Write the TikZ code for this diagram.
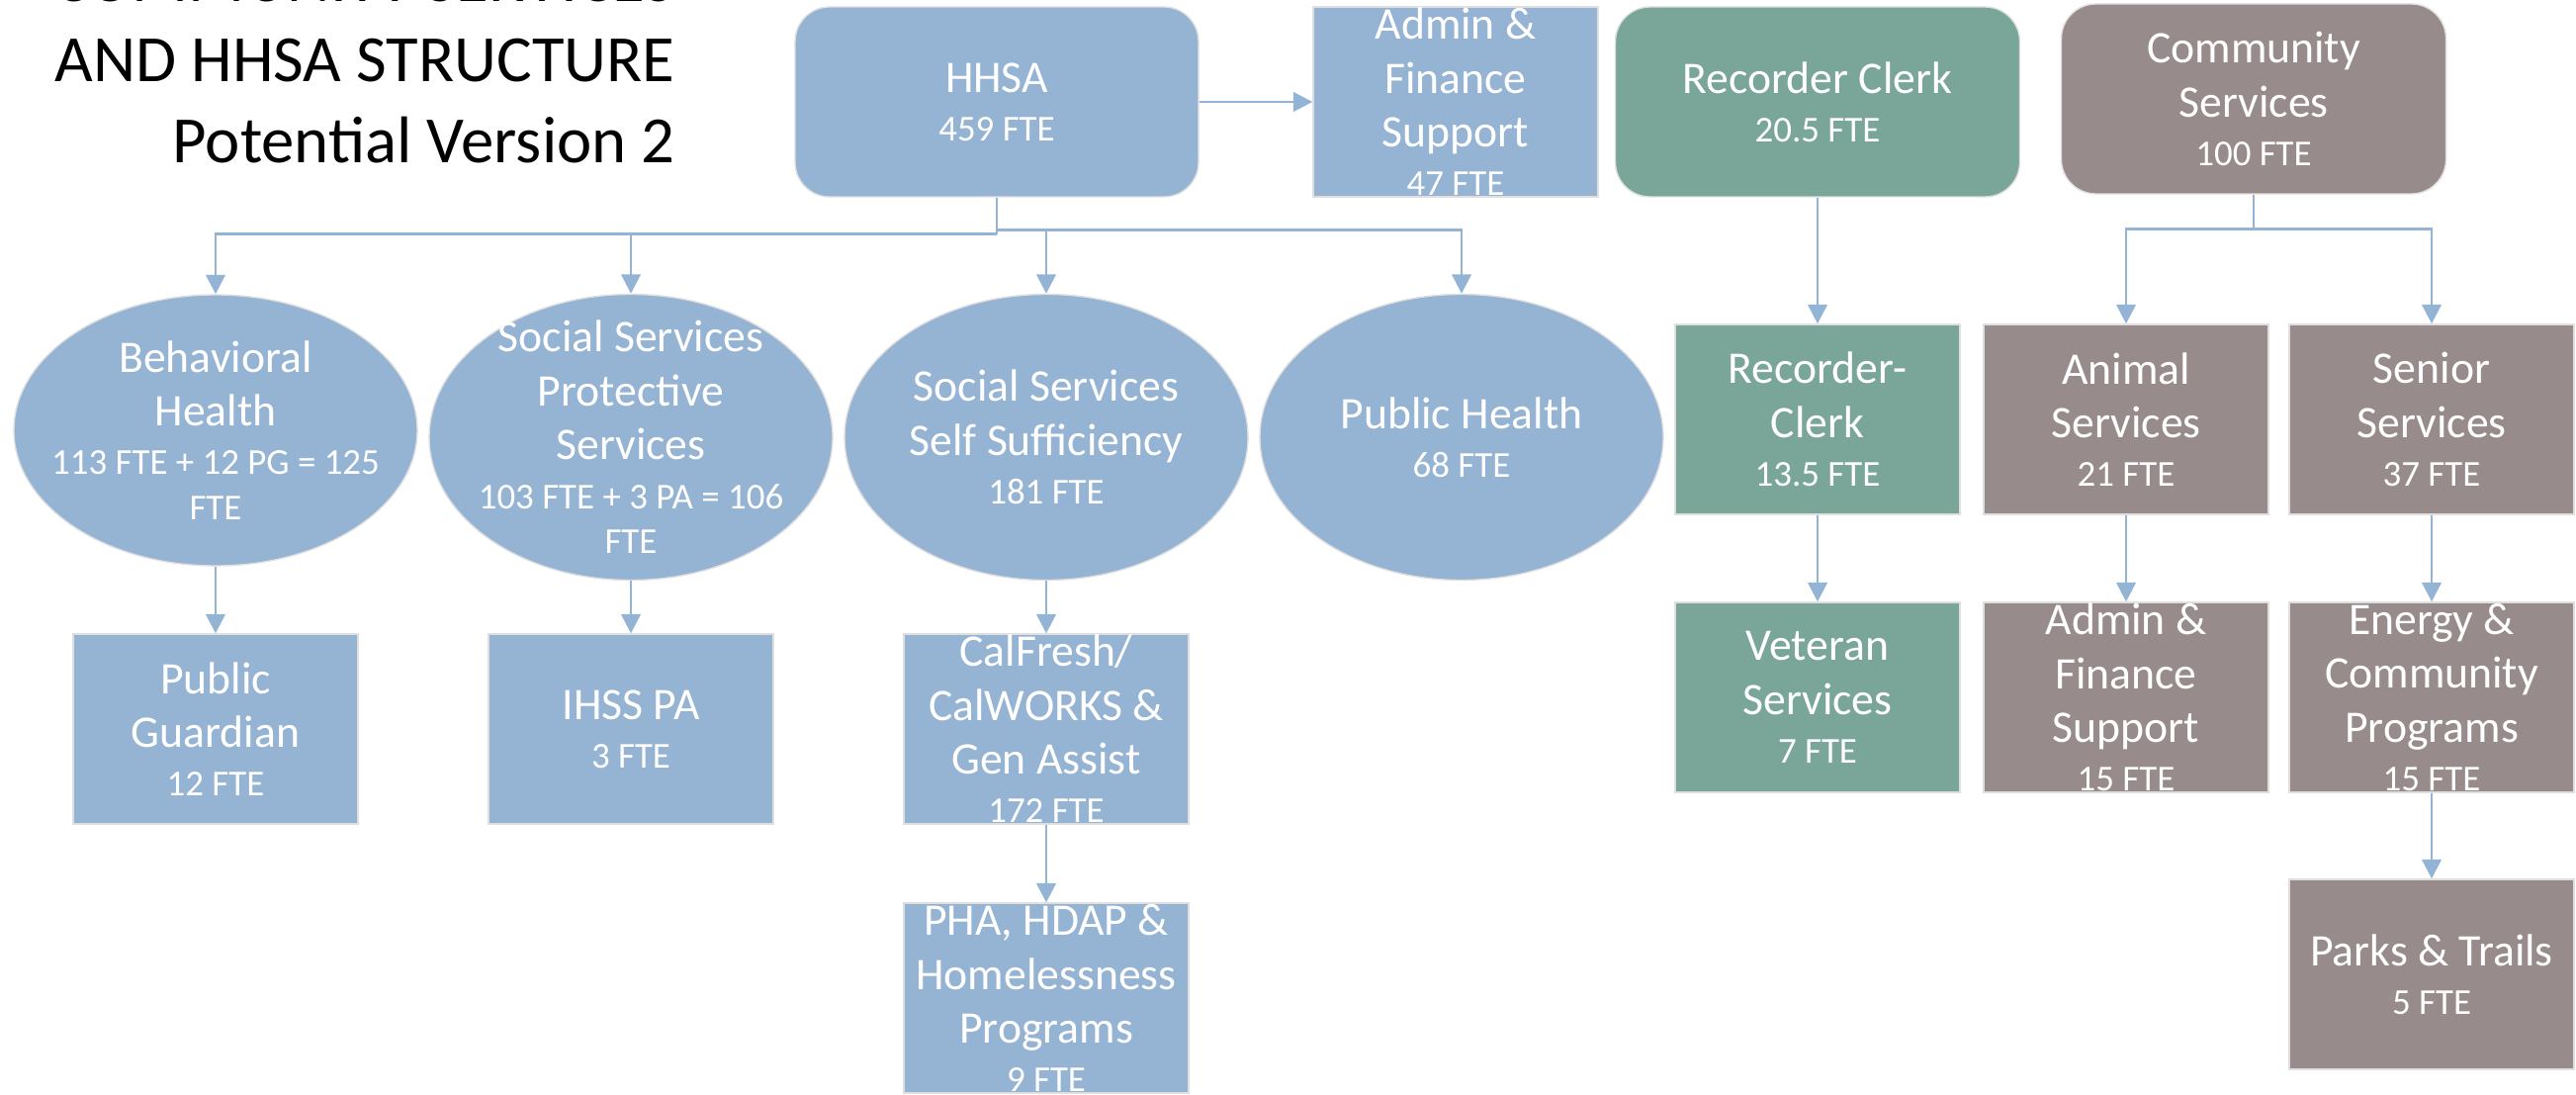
\documentclass[tikz,border=0pt]{standalone}
\usepackage{fontspec}
\setmainfont{Carlito}
\usetikzlibrary{shapes.geometric,arrows.meta}

\definecolor{hhsablue}{RGB}{149,179,211}
\definecolor{clerkgreen}{RGB}{122,166,154}
\definecolor{commgrey}{RGB}{151,139,139}
\definecolor{linkblue}{RGB}{147,180,213}

\newcommand\fte[1]{{\fontsize{10.5}{12.5}\selectfont #1}}

\begin{document}
\begin{tikzpicture}[
    txt/.style={text=white,align=center,font=\fontsize{13}{15.5}\selectfont},
    unit/.style={txt,draw=gray!25,line width=0.4pt,inner sep=0pt,minimum width=2.88cm,minimum height=1.92cm},
    head/.style={unit,rounded corners=0.35cm,minimum width=4.08cm},
    blob/.style={ellipse,draw=gray!25,fill=hhsablue,inner sep=0pt,minimum width=4.08cm,minimum height=2.89cm},
    ttl/.style={anchor=base east,font=\fontsize{19}{23}\selectfont},
    link/.style={draw=linkblue,line width=0.8pt},
    arr/.style={link,-{Triangle[length=5.5pt,width=5.5pt]}}
]
    \useasboundingbox (0,0) rectangle (26.05,-11.06);

    % title
    \node[ttl] (ttl1) at (6.95,-0.02) {COMMUNITY SERVICES};
    \node[ttl] (ttl2) at (6.95,-0.83) {AND HHSA STRUCTURE};
    \node[ttl] (ttl3) at (6.95,-1.65) {Potential Version 2};

    % top row
    \node[head,fill=hhsablue] (hhsa) at (10.08,-1.03) {HHSA\\[-1.5pt]\fte{459 FTE}};
    \node[unit,fill=hhsablue] (hadmin) at (14.72,-1.03) {Admin \&\\Finance\\Support\\[-1.5pt]\fte{47 FTE}};
    \node[head,fill=clerkgreen,minimum width=4.09cm] (clerk) at (18.38,-1.03) {Recorder Clerk\\[-1.5pt]\fte{20.5 FTE}};
    \node[head,fill=commgrey,minimum width=3.89cm] (comm) at (22.79,-1.0) {Community\\Services\\[-1.5pt]\fte{100 FTE}};

    % HHSA divisions
    \node[blob,minimum height=2.74cm] (bh) at (2.18,-4.35) {};
    \node[txt] (bh-t) at (bh) {Behavioral\\Health\\[-1.5pt]\fte{113 FTE + 12 PG = 125}\\[-2.5pt]\fte{FTE}};
    \node[blob] (ssp) at (6.38,-4.42) {};
    \node[txt] (ssp-t) at (ssp) {Social Services\\Protective\\Services\\[-1.5pt]\fte{103 FTE + 3 PA = 106}\\[-2.5pt]\fte{FTE}};
    \node[blob] (sss) at (10.58,-4.42) {};
    \node[txt] (sss-t) at (sss) {Social Services\\Self Sufficiency\\[-1.5pt]\fte{181 FTE}};
    \node[blob] (ph) at (14.78,-4.42) {};
    \node[txt] (ph-t) at (ph) {Public Health\\[-1.5pt]\fte{68 FTE}};

    \node[unit,fill=hhsablue] (pg) at (2.18,-7.37) {Public\\Guardian\\[-1.5pt]\fte{12 FTE}};
    \node[unit,fill=hhsablue] (ihss) at (6.38,-7.37) {IHSS PA\\[-1.5pt]\fte{3 FTE}};
    \node[unit,fill=hhsablue] (calf) at (10.58,-7.37) {CalFresh/\\CalWORKS \&\\Gen Assist\\[-1.5pt]\fte{172 FTE}};
    \node[unit,fill=hhsablue] (pha) at (10.58,-10.09) {PHA, HDAP \&\\Homelessness\\Programs\\[-1.5pt]\fte{9 FTE}};

    % clerk and community services
    \node[unit,fill=clerkgreen] (rclerk) at (18.38,-4.24) {Recorder-\\Clerk\\[-1.5pt]\fte{13.5 FTE}};
    \node[unit,fill=commgrey] (animal) at (21.50,-4.24) {Animal\\Services\\[-1.5pt]\fte{21 FTE}};
    \node[unit,fill=commgrey] (senior) at (24.59,-4.24) {Senior\\Services\\[-1.5pt]\fte{37 FTE}};
    \node[unit,fill=clerkgreen] (vet) at (18.38,-7.05) {Veteran\\Services\\[-1.5pt]\fte{7 FTE}};
    \node[unit,fill=commgrey] (cadmin) at (21.50,-7.05) {Admin \&\\Finance\\Support\\[-1.5pt]\fte{15 FTE}};
    \node[unit,fill=commgrey] (energy) at (24.59,-7.05) {Energy \&\\Community\\Programs\\[-1.5pt]\fte{15 FTE}};
    \node[unit,fill=commgrey] (parks) at (24.59,-9.85) {Parks \& Trails\\[-1.5pt]\fte{5 FTE}};

    % connectors
    \draw[arr] (hhsa.east) -- (hadmin.west);
    \coordinate (hl) at ([yshift=-0.37cm]hhsa.south);
    \coordinate (hr) at ([yshift=-0.33cm]hhsa.south);
    \draw[link] (hhsa.south) -- (hl);
    \draw[arr] (hl) -| (bh.north);
    \draw[arr] (hl) -| (ssp.north);
    \draw[arr] (hr) -| (sss.north);
    \draw[arr] (hr) -| (ph.north);
    \draw[arr] (bh.south) -- (pg.north);
    \draw[arr] (ssp.south) -- (ihss.north);
    \draw[arr] (sss.south) -- (calf.north);
    \draw[arr] (calf.south) -- (pha.north);

    \draw[arr] (clerk.south) -- (rclerk.north);
    \draw[arr] (rclerk.south) -- (vet.north);
    \coordinate (cj) at ([yshift=-0.35cm]comm.south);
    \draw[link] (comm.south) -- (cj);
    \draw[arr] (cj) -| (animal.north);
    \draw[arr] (cj) -| (senior.north);
    \draw[arr] (animal.south) -- (cadmin.north);
    \draw[arr] (senior.south) -- (energy.north);
    \draw[arr] (energy.south) -- (parks.north);
\end{tikzpicture}
\end{document}
